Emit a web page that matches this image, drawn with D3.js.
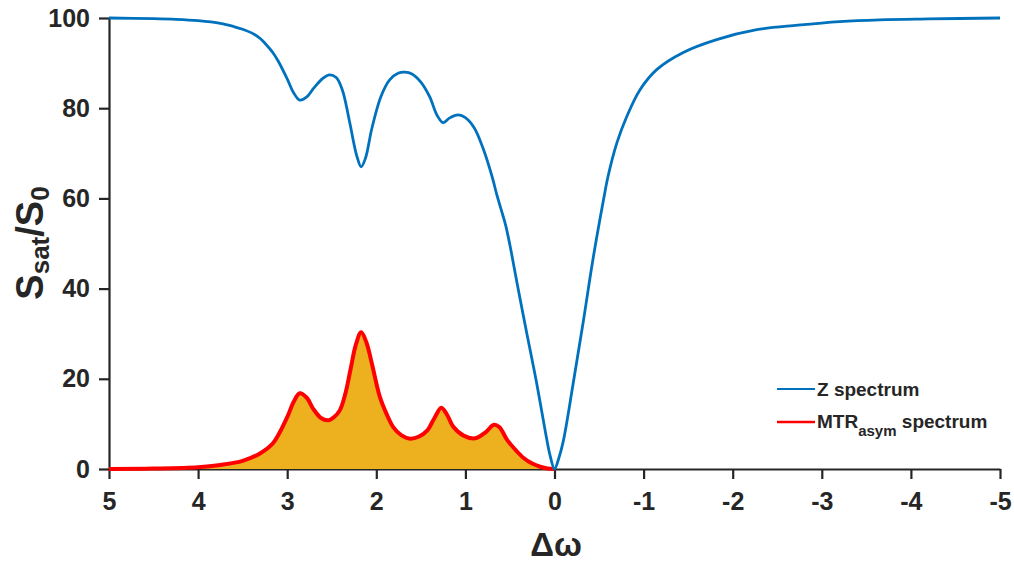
<!DOCTYPE html>
<html>
<head>
<meta charset="utf-8">
<script src="https://cdn.jsdelivr.net/npm/d3@7"></script>
<style>
  html, body { margin: 0; padding: 0; background: #fff; }
  svg text { font-family: "Liberation Sans", Arial, Helvetica, sans-serif; font-weight: bold; fill: #262626; }
</style>
</head>
<body>
<svg id="chart" width="1014" height="562"></svg>
<script>
// Frequency offset (ppm) and normalised signal (%) for the Z spectrum
const zOffset = [5, 4.5, 4.25, 4, 3.75, 3.6, 3.5, 3.4, 3.3, 3.25, 3.16, 3.1, 3.0, 2.93, 2.86, 2.78, 2.7, 2.6, 2.53, 2.45, 2.38, 2.3, 2.22, 2.17, 2.12, 2.05, 1.95, 1.85, 1.75, 1.68, 1.6, 1.5, 1.4, 1.32, 1.25, 1.18, 1.08, 1.0, 0.9, 0.8, 0.7, 0.65, 0.6, 0.55, 0.5, 0.42, 0.31, 0.2, 0.1, 0.05, 0,
  -0.05, -0.1, -0.21, -0.32, -0.43, -0.55, -0.6, -0.7, -0.81, -0.96, -1.15, -1.44, -1.82, -2.27, -2.73, -3.2, -3.65, -4.2, -5];
const zSignal = [100, 99.85, 99.7, 99.4, 98.8, 98.1, 97.5, 96.7, 95.4, 94.4, 92.3, 90.4, 86.5, 83.5, 81.8, 82.5, 84.5, 86.6, 87.4, 86.8, 84, 77, 69.5, 67, 69, 75.5, 82.5, 86.3, 87.8, 88, 87.6, 85.8, 82.5, 78.5, 76.8, 77.8, 78.5, 77.9, 75.6, 71, 64.8, 61, 57.6, 54.2, 49.6, 41.2, 30, 19, 8, 3, 0,
  2.5, 6.3, 19, 32.3, 46.3, 59.7, 64.8, 72.3, 78.1, 84.1, 88.6, 92.3, 95.2, 97.4, 98.4, 99.2, 99.6, 99.8, 100];

// Asymmetry (MTRasym) spectrum on the positive offsets
const mtrOffset = [5, 4.5, 4, 3.75, 3.5, 3.31, 3.16, 3.0, 2.93, 2.86, 2.78, 2.71, 2.62, 2.54, 2.47, 2.41, 2.35, 2.29, 2.23, 2.17, 2.11, 2.05, 1.96, 1.88, 1.81, 1.72, 1.62, 1.52, 1.43, 1.35, 1.27, 1.2, 1.14, 1.02, 0.89, 0.77, 0.68, 0.62, 0.53, 0.44, 0.35, 0.25, 0.16, 0.08, 0];
const mtrValue = [0, 0.1, 0.4, 0.9, 1.8, 3.4, 5.7, 11.5, 14.8, 16.8, 15.8, 13.4, 11.3, 10.8, 11.6, 13, 16.5, 22, 27.5, 30.3, 28, 23.4, 16, 12, 9.3, 7.5, 6.7, 7.2, 8.5, 11.2, 13.6, 11.8, 9.5, 7.4, 6.8, 8.2, 9.8, 9.3, 6.4, 4.3, 2.5, 1.2, 0.5, 0.1, 0];

const xTicks = [5, 4, 3, 2, 1, 0, -1, -2, -3, -4, -5];
const yTicks = [0, 20, 40, 60, 80, 100];
const legendLabels = ["Z spectrum", "MTR"];

const svg = d3.select("#chart");
const margin = { left: 109, right: 14, top: 18, bottom: 93 };
const W = 1014, H = 562;

const x = d3.scaleLinear().domain([5, -5]).range([margin.left, W - margin.right]);
const y = d3.scaleLinear().domain([0, 100]).range([H - margin.bottom, margin.top]);

const axisColor = "#262626";

// Axes
const gx = svg.append("g")
  .attr("transform", `translate(0,${y(0)})`)
  .call(d3.axisBottom(x).tickValues(xTicks).tickSize(10).tickPadding(13).tickSizeOuter(0).tickFormat(d => String(d)));
const gy = svg.append("g")
  .attr("transform", `translate(${x(5)},0)`)
  .call(d3.axisLeft(y).tickValues(yTicks).tickSize(10).tickPadding(9).tickSizeOuter(0).tickFormat(d => String(d)));

[gx, gy].forEach(g => {
  g.select(".domain").attr("stroke", axisColor).attr("stroke-width", 2.2);
  g.selectAll(".tick line").attr("stroke", axisColor).attr("stroke-width", 2.2);
  g.selectAll(".tick text").attr("font-size", 25).attr("fill", axisColor)
    .style("font-family", '"Liberation Sans", Arial, sans-serif').style("font-weight", "bold");
});

const mtrData = mtrOffset.map((d, i) => [d, mtrValue[i]]);
const zData = zOffset.map((d, i) => [d, zSignal[i]]);
const curve = d3.curveCatmullRom.alpha(0.5);

// MTRasym area and curve
svg.append("path")
  .datum(mtrData)
  .attr("fill", "#EDB120")
  .attr("d", d3.area().x(d => x(d[0])).y0(y(0)).y1(d => y(Math.max(0, d[1]))).curve(curve));

svg.append("path")
  .datum(mtrData)
  .attr("fill", "none")
  .attr("stroke", "#FF0000")
  .attr("stroke-width", 4)
  .attr("stroke-linejoin", "round")
  .attr("d", d3.line().x(d => x(d[0])).y(d => y(d[1])).curve(curve));

// Z spectrum curve
svg.append("path")
  .datum(zData)
  .attr("fill", "none")
  .attr("stroke", "#0072BD")
  .attr("stroke-width", 2.8)
  .attr("stroke-linejoin", "round")
  .attr("d", d3.line().x(d => x(d[0])).y(d => y(d[1])).curve(curve));

// Legend
const leg = svg.append("g").attr("transform", "translate(777,389)");
leg.append("line").attr("x1", 0).attr("x2", 38).attr("y1", 0).attr("y2", 0)
  .attr("stroke", "#0072BD").attr("stroke-width", 2);
leg.append("text").attr("x", 40).attr("y", 7).attr("font-size", 19).text(legendLabels[0]);
leg.append("line").attr("x1", 0).attr("x2", 38).attr("y1", 33).attr("y2", 33)
  .attr("stroke", "#FF0000").attr("stroke-width", 2.5);
const t2 = leg.append("text").attr("x", 40).attr("y", 39).attr("font-size", 19);
t2.append("tspan").text(legendLabels[1]);
t2.append("tspan").attr("font-size", 15).attr("dy", 8).text("asym");
t2.append("tspan").attr("dy", -8).text(" spectrum");

// Axis titles
const yl = svg.append("text")
  .attr("transform", "translate(43,243) rotate(-90)")
  .attr("text-anchor", "middle")
  .attr("font-size", 38)
  .attr("fill", "#000");
yl.append("tspan").text("S");
yl.append("tspan").attr("font-size", 26).attr("dy", 6).text("sat");
yl.append("tspan").attr("dy", -6).text("/S");
yl.append("tspan").attr("font-size", 26).attr("dy", 6).text("0");

svg.append("text")
  .attr("x", 556).attr("y", 556)
  .attr("text-anchor", "middle")
  .attr("font-size", 33)
  .attr("fill", "#000")
  .text("Δω");
</script>
</body>
</html>
